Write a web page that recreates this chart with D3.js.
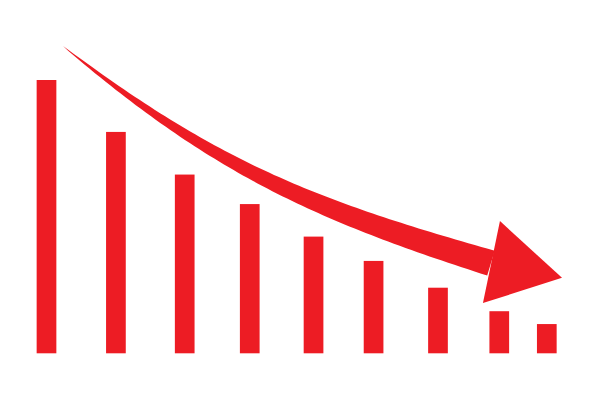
<!DOCTYPE html>
<html>
<head>
<meta charset="utf-8">
<script src="https://cdn.jsdelivr.net/npm/d3@7"></script>
<style>
  html, body { margin: 0; padding: 0; background: #ffffff; }
  svg { display: block; }
</style>
</head>
<body>
<script>
// ---- data ----
const categories = ["1", "2", "3", "4", "5", "6", "7", "8", "9"];
const positions  = [0, 1.11, 2.21, 3.25, 4.27, 5.23, 6.26, 7.24, 8];
const values     = [100, 81, 65.4, 54.6, 42.7, 33.8, 24, 15.4, 10.7];
// downward trend arrow (cubic curve + head), in data units [position, value]
const trendCurve = [[0.264, 112.4], [2.662, 68.5], [4.229, 52.8], [7.107, 33.0]];
const trendHead  = [[7.251, 48.4], [8.243, 27.6], [6.979, 18.4]];

const W = 600, H = 400;
const color = "#ed1c24";

const svg = d3.select("body").append("svg").attr("width", W).attr("height", H);

const x = d3.scaleLinear().domain([0, 8]).range([46.5, 546.8]);
const y = d3.scaleLinear().domain([0, 100]).range([353.3, 80]);
const barW = 19.7;

svg.append("g").selectAll("rect")
  .data(values)
  .join("rect")
  .attr("x", (d, i) => x(positions[i]) - barW / 2)
  .attr("y", d => y(d))
  .attr("width", barW)
  .attr("height", d => y(0) - y(d))
  .attr("fill", color);

// tapered arrow shaft
const P = trendCurve.map(p => [x(p[0]), y(p[1])]);
function bez(t) {
  const u = 1 - t;
  const a = u*u*u, b = 3*u*u*t, c = 3*u*t*t, e = t*t*t;
  return [a*P[0][0] + b*P[1][0] + c*P[2][0] + e*P[3][0],
          a*P[0][1] + b*P[1][1] + c*P[2][1] + e*P[3][1]];
}
function dbez(t) {
  const u = 1 - t;
  return [3*u*u*(P[1][0]-P[0][0]) + 6*u*t*(P[2][0]-P[1][0]) + 3*t*t*(P[3][0]-P[2][0]),
          3*u*u*(P[1][1]-P[0][1]) + 6*u*t*(P[2][1]-P[1][1]) + 3*t*t*(P[3][1]-P[2][1])];
}
const N = 80, maxW = 26;
const upper = [], lower = [];
for (let i = 0; i <= N; i++) {
  const t = i / N;
  const p = bez(t), d = dbez(t);
  const len = Math.hypot(d[0], d[1]);
  const nx = -d[1] / len, ny = d[0] / len;
  const hw = maxW * Math.pow(t, 0.8) / 2;
  upper.push([p[0] - nx * hw, p[1] - ny * hw]);
  lower.push([p[0] + nx * hw, p[1] + ny * hw]);
}
const shaft = upper.concat(lower.reverse());
svg.append("path")
  .attr("d", d3.line()(shaft) + "Z")
  .attr("fill", color);

svg.append("path")
  .attr("d", d3.line()(trendHead.map(p => [x(p[0]), y(p[1])])) + "Z")
  .attr("fill", color);
</script>
</body>
</html>
